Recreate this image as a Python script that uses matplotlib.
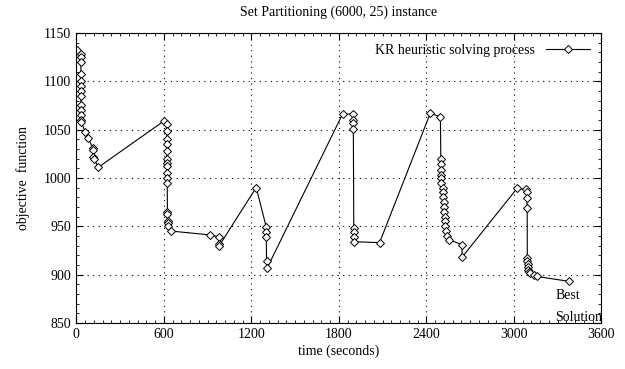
import matplotlib.pyplot as plt
from matplotlib.ticker import MultipleLocator

plt.rcParams['font.family'] = ['Liberation Serif', 'DejaVu Serif']

# KR heuristic solving process
time_s = [5, 30, 32, 32, 32, 32, 32, 32, 32, 32, 32, 33, 34, 35,
          62, 83, 112, 117, 118, 121, 152,
          603, 620, 622, 622, 622, 622, 622, 622, 622, 622, 622, 624,
          625, 625, 626, 628, 630, 648,
          917, 979, 980, 981,
          1234, 1303, 1303, 1303, 1305, 1310,
          1826, 1897, 1900, 1900, 1900, 1903, 1903, 1903, 1904,
          2080,
          2428, 2497, 2500, 2500, 2500, 2500, 2500, 2502, 2512, 2515, 2518, 2520,
          2522, 2524, 2526, 2528, 2530, 2536, 2540, 2554,
          2645, 2646,
          3022, 3086, 3088, 3090, 3092, 3093, 3094, 3095, 3097, 3100, 3103,
          3114, 3137, 3159, 3377]
objective = [1132, 1128, 1125, 1120, 1107, 1100, 1095, 1090, 1085, 1075, 1070, 1065, 1060, 1058,
             1047, 1041, 1031, 1029, 1022, 1020, 1011,
             1059, 1056, 1048, 1040, 1035, 1028, 1020, 1015, 1012, 1005, 1000, 995,
             965, 963, 955, 953, 950, 945,
             941, 939, 932, 930,
             990, 949, 944, 939, 914, 907,
             1066, 1066, 1060, 1057, 1051, 948, 944, 939, 934,
             933,
             1067, 1063, 1020, 1014, 1008, 1003, 1000, 995, 990, 985, 980, 975,
             970, 965, 960, 955, 950, 945, 940, 936,
             931, 918,
             989, 988, 985, 979, 969, 917, 914, 911, 908, 905, 903,
             902, 900, 898, 893]

legend_label = 'KR heuristic solving process'
x_ticks = [0, 600, 1200, 1800, 2400, 3000, 3600]
y_ticks = [850, 900, 950, 1000, 1050, 1100, 1150]

fig, ax = plt.subplots(figsize=(6.25, 3.69), dpi=100)
fig.subplots_adjust(left=0.122, right=0.962, top=0.911, bottom=0.125)

ax.plot(time_s, objective, color='black', linewidth=0.8, marker='D',
        markersize=4.5, markerfacecolor='white', markeredgecolor='black',
        markeredgewidth=0.7, label=legend_label)

ax.set_xlim(0, 3600)
ax.set_ylim(850, 1150)
ax.set_xticks(x_ticks)
ax.set_yticks(y_ticks)
ax.xaxis.set_minor_locator(MultipleLocator(60))
ax.yaxis.set_minor_locator(MultipleLocator(10))
ax.tick_params(which='both', direction='in', top=True, right=True,
               labelsize=10, color='black')
ax.tick_params(which='major', length=5)
ax.tick_params(which='minor', length=2.5)
ax.grid(True, which='major', linestyle=(0, (1, 4)), color='black', linewidth=0.8)

ax.set_title('Set Partitioning (6000, 25) instance', fontsize=10, pad=12)
ax.set_xlabel('time (seconds)', fontsize=10, labelpad=3)
ax.set_ylabel('objective  function', fontsize=10, labelpad=10)

ax.text(3285, 878, 'Best', fontsize=10, va='center')
ax.text(3285, 856, 'Solution', fontsize=10, va='center')

leg = ax.legend(loc='upper right', markerfirst=False, frameon=False,
                fontsize=10, handlelength=3.2, borderaxespad=0.4)

fig.savefig('out.png', dpi=100)
